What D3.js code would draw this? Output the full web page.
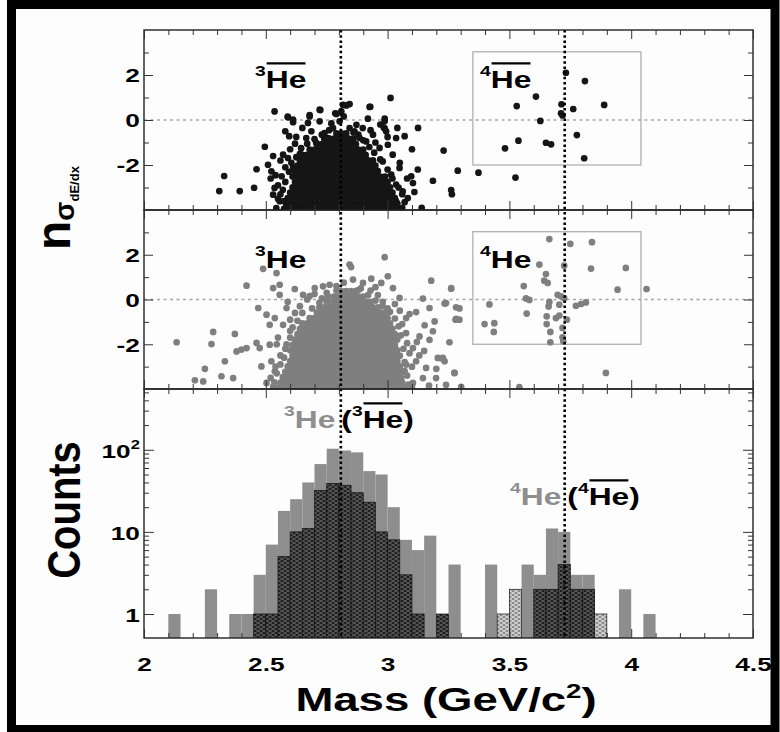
<!DOCTYPE html>
<html><head><meta charset="utf-8">
<script src="https://cdn.jsdelivr.net/npm/d3@7"></script>
<style>
html,body{margin:0;padding:0;background:#fff;}
svg{display:block;}
text{font-family:"Liberation Sans",Arial,Helvetica,sans-serif;font-weight:bold;}
</style>
</head><body>
<svg id="chart" width="780" height="732"></svg>
<script>
// ---------------- DATA ----------------
// Histogram: lower bin edges (GeV/c^2), bin width 0.05
const binLow = [2.10,2.15,2.20,2.25,2.30,2.35,2.40,2.45,2.50,2.55,2.60,2.65,2.70,2.75,2.80,2.85,2.90,2.95,3.00,3.05,
                3.10,3.15,3.20,3.25,3.30,3.35,3.40,3.45,3.50,3.55,3.60,3.65,3.70,3.75,3.80,3.85,3.90,3.95,4.00,4.05];
const binWidth = 0.05;
const heCounts   = [1,0,0,2,0,1,1,3,7,18,25,40,67,103,98,93,55,50,20,8,
                    6,9,1,4,0,0,4,0,0,4,3,11,10,3,3,0,0,2,0,1];
const antiCounts = [0,0,0,0,0,0,0,1,1,5,10,11,32,39,37,30,23,10,8,3,
                    1,0,1,0,0,0,0,1,2,0,2,2,4,2,2,1,0,0,0,0];

// Reference masses (dotted lines)
const refMasses = [2.808, 3.727];

// Tick labels
const xTickVals = [2, 2.5, 3, 3.5, 4, 4.5];
const xTickLabels = ["2", "2.5", "3", "3.5", "4", "4.5"];
const nsTickVals = [-2, 0, 2];
const nsTickLabels = ["-2", "0", "2"];
const logTickVals = [1, 10, 100];

// Selection boxes for 4He (mass range, n-sigma range)
const boxMass = [3.35, 4.04];
const boxSigma = [-2, 3.03];

// Top panel: anti-helium candidates (mass, n_sigma). Dense core read row by row.
const antiCoreRows = [
 [-3.95, 2.59,2.61,2.63,2.65,2.67,2.69,2.71,2.73,2.75,2.77,2.79,2.81,2.83,2.85,2.87,2.89,2.91,2.93,2.95,2.97,2.99,3.01,3.03,3.05],
 [-3.71, 2.60,2.62,2.64,2.66,2.68,2.70,2.72,2.74,2.76,2.78,2.80,2.82,2.84,2.86,2.88,2.90,2.92,2.94,2.96,2.98,3.00,3.02,3.04],
 [-3.47, 2.59,2.61,2.63,2.65,2.67,2.69,2.71,2.73,2.75,2.77,2.79,2.81,2.83,2.85,2.87,2.89,2.91,2.93,2.95,2.97,2.99,3.01,3.03],
 [-3.23, 2.60,2.62,2.64,2.66,2.68,2.70,2.72,2.74,2.76,2.78,2.80,2.82,2.84,2.86,2.88,2.90,2.92,2.94,2.96,2.98,3.00,3.02],
 [-2.99, 2.61,2.63,2.65,2.67,2.69,2.71,2.73,2.75,2.77,2.79,2.81,2.83,2.85,2.87,2.89,2.91,2.93,2.95,2.97,2.99,3.01],
 [-2.75, 2.62,2.64,2.66,2.68,2.70,2.72,2.74,2.76,2.78,2.80,2.82,2.84,2.86,2.88,2.90,2.92,2.94,2.96,2.98,3.00],
 [-2.51, 2.61,2.63,2.65,2.67,2.69,2.71,2.73,2.75,2.77,2.79,2.81,2.83,2.85,2.87,2.89,2.91,2.93,2.95,2.97,2.99],
 [-2.27, 2.62,2.64,2.66,2.68,2.70,2.72,2.74,2.76,2.78,2.80,2.82,2.84,2.86,2.88,2.90,2.92,2.94,2.96],
 [-2.03, 2.63,2.65,2.67,2.69,2.71,2.73,2.75,2.77,2.79,2.81,2.83,2.85,2.87,2.89,2.91,2.93,2.95],
 [-1.79, 2.64,2.66,2.68,2.70,2.72,2.74,2.76,2.78,2.80,2.82,2.84,2.86,2.88,2.90,2.92,2.94],
 [-1.55, 2.65,2.67,2.69,2.71,2.73,2.75,2.77,2.79,2.81,2.83,2.85,2.87,2.89,2.91],
 [-1.31, 2.68,2.70,2.72,2.74,2.76,2.78,2.80,2.82,2.84,2.86,2.88,2.90],
 [-1.07, 2.71,2.73,2.75,2.77,2.79,2.81,2.83,2.85,2.87],
 [-0.83, 2.74,2.76,2.78,2.80,2.82,2.84,2.86],
 [-0.59, 2.79,2.81,2.83]
];
const antiHalo = [
 [2.309,-3.16],[2.329,-2.49],[2.393,-3.16],[2.452,-3.01],[2.462,-2.19],[2.496,-1.19],[2.536,0.38],
 [2.721,0.46],[2.926,0.58],[2.831,0.65],[2.81,0.39],[2.591,0.12],[2.612,0.02],[2.68,0.16],[2.673,-0.13],
 [2.721,-0.06],[2.79,0.27],[2.82,0.16],[2.919,0.06],[2.988,0.06],[2.984,-0.33],[2.872,-0.21],[2.596,-0.72],
 [3.07,-0.72],[3.124,-2.2],[3.186,-2.7],[3.097,-2.5],[3.104,-2.8],[3.012,0.98],[3.23,-1.36],[3.261,-3.11],
 [3.264,-3.3],[3.288,-2.25],[3.373,-2.34],[3.482,-1.26],[3.525,-2.56],[3.53,0.62],[3.537,-0.92],[3.609,1.04],
 [3.627,-0.04],[3.65,-1.01],[3.671,-1.08],[3.712,0.3],[3.718,0.2],[3.714,0.7],[3.732,2.1],[3.762,0.49],
 [3.777,-0.67],[3.81,1.73],[3.807,-1.7],[3.889,0.67],
 [2.844,0.71],[2.929,0.59],[2.769,-0.15],[2.785,0.3],[2.817,0.67],[2.724,0.44],[2.988,-0.04],[2.988,-0.37],
 [2.612,-0.1],[2.59,0.15],[2.68,0.22],
 [2.509,-1.99],[2.523,-2.28],[2.536,-3.02],[2.53,-3.32],[2.557,-3.61],[2.543,-3.91],[2.571,-1.54],[2.591,-1.69],
 [2.612,-2.13],[2.666,-0.8],[2.687,-0.5],[2.707,-1.02],[2.646,-2.43],[2.632,-2.87],[2.612,-3.32],[2.584,-3.76],
 [3.035,-0.8],[3.001,-1.1],[3.021,-1.54],[2.98,-1.84],[3.049,-2.13],[3.015,-2.43],[3.035,-2.87],[3.062,-3.17],
 [3.083,-3.47],[3.035,-3.61],[2.994,-2.87],[2.967,-1.24],[2.994,-0.5],[2.94,-0.65],[2.898,-0.36],[2.864,-0.5],
 [2.912,-0.95],[2.803,-0.06],[2.844,-0.36],[2.776,-0.36],[2.741,-0.58],[2.755,-0.8],[2.817,-0.65],[2.885,-0.8],
 [2.52,-2.6],[2.55,-2.9],[2.56,-3.3],[2.565,-2.5],[2.575,-3.95],[2.55,-3.5],[2.54,-2.45],[2.58,-2.1],[2.6,-1.3],
 [2.62,-1.05],[2.64,-1.5],[2.625,-0.75],[2.65,-0.35],[2.58,-0.5],[2.56,-1.8],[2.53,-1.6],
 [3.06,-3.9],[3.07,-3.65],[3.05,-1.9],[3.08,-2.6],[3.04,-0.35],[3.0,-0.75],[2.97,-0.2],[2.95,-1.0],[2.93,-0.45],
 [3.1,-1.3],[3.11,-3.2],[3.14,-3.9],[3.125,-0.35],
 [2.575,-3.6],[2.57,-3.1],[2.58,-2.75],[2.595,-2.3],[2.605,-1.9],[2.625,-1.65],[2.645,-1.25],[2.67,-1.05],
 [2.70,-0.85],[2.73,-0.65],[2.76,-0.45],[2.86,-0.55],[3.06,-3.3],[3.045,-3.0],[3.02,-2.6],[3.0,-2.2],
 [2.97,-1.75],[2.945,-1.45],[2.925,-1.2],[2.9,-0.9],[2.88,-0.65]
];

// Middle panel: helium candidates (mass, n_sigma)
const heCoreRows = [
 [-3.95, 2.55,2.57,2.59,2.61,2.63,2.65,2.67,2.69,2.71,2.73,2.75,2.77,2.79,2.81,2.83,2.85,2.87,2.89,2.91,2.93,2.95,2.97,2.99,3.01,3.03,3.05,3.07],
 [-3.71, 2.56,2.58,2.60,2.62,2.64,2.66,2.68,2.70,2.72,2.74,2.76,2.78,2.80,2.82,2.84,2.86,2.88,2.90,2.92,2.94,2.96,2.98,3.00,3.02,3.04,3.06],
 [-3.47, 2.57,2.59,2.61,2.63,2.65,2.67,2.69,2.71,2.73,2.75,2.77,2.79,2.81,2.83,2.85,2.87,2.89,2.91,2.93,2.95,2.97,2.99,3.01,3.03,3.05],
 [-3.23, 2.58,2.60,2.62,2.64,2.66,2.68,2.70,2.72,2.74,2.76,2.78,2.80,2.82,2.84,2.86,2.88,2.90,2.92,2.94,2.96,2.98,3.00,3.02,3.04,3.06],
 [-2.99, 2.59,2.61,2.63,2.65,2.67,2.69,2.71,2.73,2.75,2.77,2.79,2.81,2.83,2.85,2.87,2.89,2.91,2.93,2.95,2.97,2.99,3.01,3.03,3.05],
 [-2.75, 2.60,2.62,2.64,2.66,2.68,2.70,2.72,2.74,2.76,2.78,2.80,2.82,2.84,2.86,2.88,2.90,2.92,2.94,2.96,2.98,3.00,3.02,3.04],
 [-2.51, 2.61,2.63,2.65,2.67,2.69,2.71,2.73,2.75,2.77,2.79,2.81,2.83,2.85,2.87,2.89,2.91,2.93,2.95,2.97,2.99,3.01,3.03,3.05],
 [-2.27, 2.60,2.62,2.64,2.66,2.68,2.70,2.72,2.74,2.76,2.78,2.80,2.82,2.84,2.86,2.88,2.90,2.92,2.94,2.96,2.98,3.00,3.02,3.04],
 [-2.03, 2.61,2.63,2.65,2.67,2.69,2.71,2.73,2.75,2.77,2.79,2.81,2.83,2.85,2.87,2.89,2.91,2.93,2.95,2.97,2.99,3.01,3.03],
 [-1.79, 2.62,2.64,2.66,2.68,2.70,2.72,2.74,2.76,2.78,2.80,2.82,2.84,2.86,2.88,2.90,2.92,2.94,2.96,2.98,3.00,3.02,3.04],
 [-1.55, 2.63,2.65,2.67,2.69,2.71,2.73,2.75,2.77,2.79,2.81,2.83,2.85,2.87,2.89,2.91,2.93,2.95,2.97,2.99,3.01,3.03],
 [-1.31, 2.64,2.66,2.68,2.70,2.72,2.74,2.76,2.78,2.80,2.82,2.84,2.86,2.88,2.90,2.92,2.94,2.96,2.98,3.00,3.02],
 [-1.07, 2.65,2.67,2.69,2.71,2.73,2.75,2.77,2.79,2.81,2.83,2.85,2.87,2.89,2.91,2.93,2.95,2.97,2.99,3.01],
 [-0.83, 2.68,2.70,2.72,2.74,2.76,2.78,2.80,2.82,2.84,2.86,2.88,2.90,2.92,2.94,2.96,2.98,3.00],
 [-0.59, 2.71,2.73,2.75,2.77,2.79,2.81,2.83,2.85,2.87,2.89,2.91,2.93,2.95,2.97,2.99],
 [-0.35, 2.72,2.74,2.76,2.78,2.80,2.82,2.84,2.86,2.88,2.90,2.92,2.94,2.96],
 [-0.11, 2.75,2.77,2.79,2.81,2.83,2.85,2.87,2.89,2.91,2.93],
 [0.13, 2.78,2.80,2.82,2.84,2.86,2.88,2.90],
 [0.37, 2.81,2.83,2.85,2.87]
];
const heHalo = [
 [2.134,-1.91],[2.284,-1.45],[2.277,-1.99],[2.373,-1.54],[2.38,-2.32],[2.40,-2.24],[2.421,-2.17],[2.469,-0.38],
 [2.421,0.62],[2.462,-1.94],[2.475,-2.17],[2.516,-2.02],[2.332,-2.76],[2.25,-3.1],[2.209,-3.61],[2.243,-3.66],
 [2.318,-3.43],[2.366,-3.51],[2.482,-2.99],[2.523,-2.76],[2.537,-3.21],[2.503,-3.73],[2.544,1.18],[2.489,1.37],
 [2.557,0.66],[2.53,0.51],[2.619,0.47],[2.557,0.21],[2.503,-0.68],[2.537,-0.83],[2.571,-1.13],[2.585,-0.38],
 [2.516,-1.13],[2.844,1.56],[2.85,1.45],[2.988,1.89],[3.001,1.04],[2.858,0.89],[2.899,0.74],[2.933,0.93],
 [2.974,0.74],[2.735,0.59],[2.701,0.51],[2.762,0.66],[2.653,0.21],[2.68,0.15],[3.022,0.51],[3.049,0.07],
 [3.179,0.84],[3.261,0.48],[3.145,0.04],[3.24,-0.16],[3.172,-0.38],[3.117,-0.56],[3.076,-0.83],[3.281,-0.87],
 [3.193,-0.98],[3.152,-1.15],[3.076,-1.5],[3.186,-1.42],[3.131,-1.65],[3.172,-1.8],[3.254,-1.91],[3.104,-2.17],
 [3.206,-2.61],[3.234,-2.76],[3.117,-2.76],[3.158,-3.06],[3.076,-2.91],[3.275,-3.28],[3.199,-3.51],[3.145,-3.51],
 [3.104,-3.73],[3.24,-3.81],[3.056,-3.51],[3.234,-0.18],[3.295,-0.4],[3.279,-0.9],[3.22,-2.63],[3.302,-3.9],
 [3.418,-0.22],[3.398,-1.1],[3.438,-1.06],[3.436,-1.45],[3.559,0.6],[3.568,0.05],[3.582,-0.02],[3.571,-0.63],
 [3.623,1.56],[3.65,1.14],[3.643,0.84],[3.657,0.74],[3.664,2.7],[3.661,-0.31],[3.664,-0.11],[3.653,-0.75],
 [3.653,-1.1],[3.668,-1.45],[3.668,-1.91],[3.691,-0.83],[3.705,-0.72],[3.736,-0.9],[3.718,-1.27],[3.718,-1.69],
 [3.721,-1.87],[3.698,0.21],[3.712,0.14],[3.725,0.06],[3.705,-0.23],[3.725,1.51],[3.75,2.49],[3.773,-0.28],
 [3.794,-0.2],[3.814,-0.13],[3.839,2.56],[3.835,1.38],[3.944,0.44],[3.978,1.41],[3.896,-3.28],[4.063,0.47],
 [3.541,-3.92],[3.281,-0.35],[3.295,-0.9],[3.261,0.51],[3.274,-3.28],[3.227,-2.61],
 [3.06,-1.1],[3.09,-2.4],[3.08,-1.95],[3.07,-3.2],[3.1,-3.0],[3.05,-0.5],[3.03,-0.2],[3.09,-0.65],[3.12,-1.9],
 [3.13,-2.5],[3.1,-3.9],[3.17,-3.85],[3.2,-3.1],[3.15,-2.3],
 [2.55,-1.7],[2.58,-2.2],[2.56,-2.5],[2.54,-3.0],[2.6,-0.9],[2.62,-0.6],[2.64,-0.3],[2.67,0.0],[2.7,0.25],
 [2.6,-1.4],[2.53,-3.9],[2.52,-3.5],[2.545,-2.0],[2.59,-0.1],
 [2.75,0.3],[2.93,0.4],[2.96,0.2],[2.95,0.55],[2.89,0.5],[2.98,-0.1],[3.0,-0.4],[2.73,0.05],[2.79,0.6],[2.82,0.75],
 [2.535,-3.7],[2.545,-3.3],[2.56,-2.9],[2.575,-2.6],[2.585,-2.0],[2.6,-1.7],[2.61,-1.25],[2.63,-0.95],[2.65,-0.6],
 [2.69,-0.4],[2.72,-0.15],[2.755,0.15],[2.79,0.4],[3.085,-3.8],[3.08,-3.4],[3.07,-2.8],[3.065,-2.2],[3.055,-1.6],
 [3.045,-1.2],[3.03,-0.85],[3.01,-0.55],[2.98,-0.3],[2.95,-0.05],[2.92,0.2],[2.88,0.42]
];

// ---------------- LAYOUT ----------------
const SX = 1.38;          // horizontal text stretch of the original figure
const GRAY = "#8e8e8e";
const svg = d3.select("#chart");
const L = 144, R = 753;
const panels = [{t:30, b:210}, {t:210, b:389}, {t:389, b:638}];

const x = d3.scaleLinear().domain([2, 4.5]).range([L, R]);
const yTop = d3.scaleLinear().domain([-4, 4]).range([panels[0].b, panels[0].t]);
const yMid = d3.scaleLinear().domain([-4, 4]).range([panels[1].b, panels[1].t]);
const yHist = d3.scaleLog().domain([0.51, 550]).range([panels[2].b, panels[2].t]);

// background + black frame
svg.append("rect").attr("width", 780).attr("height", 732).attr("fill", "#fff");
svg.append("rect").attr("x", 11.5).attr("y", 4.5).attr("width", 763.5).attr("height", 725)
  .attr("fill", "#fdfdfd").attr("stroke", "#000").attr("stroke-width", 9);

const defs = svg.append("defs");
panels.forEach((p, i) => {
  defs.append("clipPath").attr("id", "clip" + i).append("rect")
    .attr("x", L).attr("y", p.t).attr("width", R - L).attr("height", p.b - p.t);
});
// hatch patterns (dark over gray, light over white)
function hatch(id, bg, hole) {
  const pt = defs.append("pattern").attr("id", id).attr("patternUnits", "userSpaceOnUse")
    .attr("width", 6).attr("height", 4);
  pt.append("rect").attr("width", 6).attr("height", 4).attr("fill", bg);
  [[3, 1], [0, 3], [6, 3]].forEach(([cx, cy]) =>
    pt.append("ellipse").attr("cx", cx).attr("cy", cy).attr("rx", 2.1).attr("ry", 0.75).attr("fill", hole));
}
hatch("hatchDark", "#1e1e1e", "#707070");
hatch("hatchLight", "#8a8a8a", "#f2f2f2");

// ---------- scatter panels ----------
function flatten(rows, halo) {
  const pts = [];
  rows.forEach(r => r.slice(1).forEach(m => pts.push([m, r[0]])));
  halo.forEach(p => pts.push(p));
  return pts;
}
function scatterPanel(i, yS, pts, color) {
  const g = svg.append("g").attr("clip-path", `url(#clip${i})`);
  g.append("line").attr("x1", L).attr("x2", R).attr("y1", yS(0)).attr("y2", yS(0))
    .attr("stroke", "#a8a8a8").attr("stroke-width", 1.6).attr("stroke-dasharray", "3,3.5");
  g.append("rect").attr("x", x(boxMass[0])).attr("y", yS(boxSigma[1]))
    .attr("width", x(boxMass[1]) - x(boxMass[0])).attr("height", yS(boxSigma[0]) - yS(boxSigma[1]))
    .attr("fill", "none").attr("stroke", "#aaa").attr("stroke-width", 1.2);
  g.selectAll("circle.pt").data(pts).join("circle").attr("class", "pt")
    .attr("cx", d => x(d[0])).attr("cy", d => yS(d[1])).attr("r", 3.35).attr("fill", color);
}
scatterPanel(0, yTop, flatten(antiCoreRows, antiHalo), "#151515");
scatterPanel(1, yMid, flatten(heCoreRows, heHalo), "#7f7f7f");

// ---------- histogram ----------
const hg = svg.append("g").attr("clip-path", "url(#clip2)");
const bins = binLow.map((lo, i) => ({lo, he: heCounts[i], anti: antiCounts[i]}));
hg.selectAll("rect.he").data(bins.filter(d => d.he > 0)).join("rect").attr("class", "he")
  .attr("x", d => x(d.lo)).attr("width", d => x(d.lo + binWidth) - x(d.lo))
  .attr("y", d => yHist(d.he)).attr("height", d => panels[2].b - yHist(d.he))
  .attr("fill", GRAY);
hg.selectAll("rect.anti").data(bins.filter(d => d.anti > 0)).join("rect").attr("class", "anti")
  .attr("x", d => x(d.lo)).attr("width", d => x(d.lo + binWidth) - x(d.lo))
  .attr("y", d => yHist(d.anti)).attr("height", d => panels[2].b - yHist(d.anti))
  .attr("fill", d => d.he >= d.anti ? "url(#hatchDark)" : "url(#hatchLight)")
  .attr("stroke", "#111").attr("stroke-width", 0.7);

// ---------- dotted reference lines ----------
refMasses.forEach(m => {
  svg.append("line").attr("x1", x(m)).attr("x2", x(m)).attr("y1", panels[0].t).attr("y2", panels[2].b)
    .attr("stroke", "#000").attr("stroke-width", 2.6).attr("stroke-dasharray", "2.5,2.7");
});

// ---------- frames and ticks ----------
panels.forEach(p => {
  svg.append("rect").attr("x", L).attr("y", p.t).attr("width", R - L).attr("height", p.b - p.t)
    .attr("fill", "none").attr("stroke", "#222").attr("stroke-width", 1.4);
});
const minorX = d3.range(21, 45).map(v => v / 10).filter(v => Math.abs(v * 2 - Math.round(v * 2)) > 1e-6);
const majorX = xTickVals;
function xTicks(yPos, dir) {
  [[minorX, 5], [majorX, 9]].forEach(([vals, len]) => {
    const ax = (dir === "down" ? d3.axisTop(x) : d3.axisBottom(x)).tickValues(vals).tickSize(-len).tickFormat("");
    svg.append("g").attr("transform", `translate(0,${yPos})`).attr("color", "#333").call(ax)
      .call(g => g.select(".domain").remove());
  });
}
xTicks(panels[0].t, "down"); xTicks(panels[0].b, "up");
xTicks(panels[1].t, "down"); xTicks(panels[1].b, "up");
xTicks(panels[2].t, "down"); xTicks(panels[2].b, "up");

function yTicks(scale, vals, len) {
  svg.append("g").attr("transform", `translate(${L},0)`).attr("color", "#333")
    .call(d3.axisLeft(scale).tickValues(vals).tickSize(-len).tickFormat(""))
    .call(g => g.select(".domain").remove());
  svg.append("g").attr("transform", `translate(${R},0)`).attr("color", "#333")
    .call(d3.axisRight(scale).tickValues(vals).tickSize(-len).tickFormat(""))
    .call(g => g.select(".domain").remove());
}
[yTop, yMid].forEach(s => { yTicks(s, [-3, -1, 1, 3], 5); yTicks(s, [-2, 0, 2], 9); });
yTicks(yHist, [2,3,4,5,6,7,8,9,20,30,40,50,60,70,80,90,200,300,400,500], 5);
yTicks(yHist, logTickVals, 10);

// ---------- tick labels ----------
const xl = svg.append("g").attr("transform", `translate(0,${panels[2].b})`)
  .call(d3.axisBottom(x).tickValues(xTickVals).tickSize(0).tickFormat((d, i) => xTickLabels[i]));
xl.select(".domain").remove();
xl.attr("font-size", 19).attr("font-family", null).attr("color", "#000");
xl.selectAll("text").attr("y", 33).attr("dy", null).attr("transform", `scale(${SX},1)`);

[yTop, yMid].forEach(s => {
  const g = svg.append("g").attr("transform", `translate(${L},0)`)
    .call(d3.axisLeft(s).tickValues(nsTickVals).tickSize(0).tickPadding(3)
      .tickFormat((d, i) => nsTickLabels[i]));
  g.select(".domain").remove();
  g.attr("font-size", 19).attr("font-family", null).attr("color", "#000");
  g.selectAll("text").attr("dy", "0.36em").attr("transform", `scale(${SX},1)`);
});
const lg = svg.append("g").attr("transform", `translate(${L},0)`)
  .call(d3.axisLeft(yHist).tickValues(logTickVals).tickSize(0).tickPadding(3).tickFormat(""));
lg.select(".domain").remove();
lg.attr("font-size", 19).attr("font-family", null).attr("color", "#000");
lg.selectAll("text").attr("dy", "0.42em").attr("transform", `scale(${SX},1)`)
  .each(function(d) {
    const t = d3.select(this);
    if (d === 100) { t.text("10"); t.append("tspan").attr("font-size", 12).attr("dy", "-0.75em").text("2"); }
    else t.text(String(d));
  });

// ---------- rich labels ----------
function rich(x0, y0, parts) {
  const g = svg.append("g").attr("transform", `translate(${x0},${y0}) scale(${SX},1)`);
  let cx = 0;
  parts.forEach(p => {
    cx += (p.gap || 0) / SX;
    const t = g.append("text").attr("x", cx).attr("y", p.dy || 0).attr("font-size", p.size)
      .attr("fill", p.color || "#000").text(p.t);
    const w = t.node().getComputedTextLength();
    if (p.over) g.append("line").attr("x1", cx + 0.6).attr("x2", cx + w - 0.6)
      .attr("y1", -p.size * 1.07).attr("y2", -p.size * 1.07)
      .attr("stroke", p.color || "#000").attr("stroke-width", 2.2);
    cx += w;
  });
}
const S = 14, B = 23;
rich(255, 88, [{t:"3", size:S, dy:-12}, {t:"He", size:B, over:true}]);
rich(480, 88, [{t:"4", size:S, dy:-12}, {t:"He", size:B, over:true}]);
rich(255, 268, [{t:"3", size:S, dy:-12}, {t:"He", size:B}]);
rich(480, 268, [{t:"4", size:S, dy:-12}, {t:"He", size:B}]);
rich(284, 428, [{t:"3", size:S, dy:-12, color:GRAY}, {t:"He", size:B, color:GRAY},
                {t:"(", size:B, gap:6}, {t:"3", size:S, dy:-12}, {t:"He", size:B, over:true}, {t:")", size:B}]);
rich(510, 505, [{t:"4", size:S, dy:-12, color:GRAY}, {t:"He", size:B, color:GRAY},
                {t:"(", size:B, gap:6}, {t:"4", size:S, dy:-12}, {t:"He", size:B, over:true}, {t:")", size:B}]);

// axis titles
const mt = svg.append("g").attr("transform", `translate(446,711) scale(${SX},1)`)
  .append("text").attr("text-anchor", "middle").attr("font-size", 33);
mt.append("tspan").text("Mass (GeV/c");
mt.append("tspan").attr("font-size", 20).attr("dy", -13).text("2");
mt.append("tspan").attr("dy", 13).text(")");

svg.append("g").attr("transform", "translate(80,510) rotate(-90) scale(1,1.15)")
  .append("text").attr("text-anchor", "middle").attr("font-size", 40).text("Counts");

const nl = svg.append("g").attr("transform", "translate(70,250) rotate(-90)").append("text");
nl.append("tspan").attr("font-size", 48).text("n");
nl.append("tspan").attr("font-size", 28).attr("dy", 4).text("σ");
nl.append("tspan").attr("font-size", 13).attr("dy", 5).text("dE/dx");
</script>
</body></html>
